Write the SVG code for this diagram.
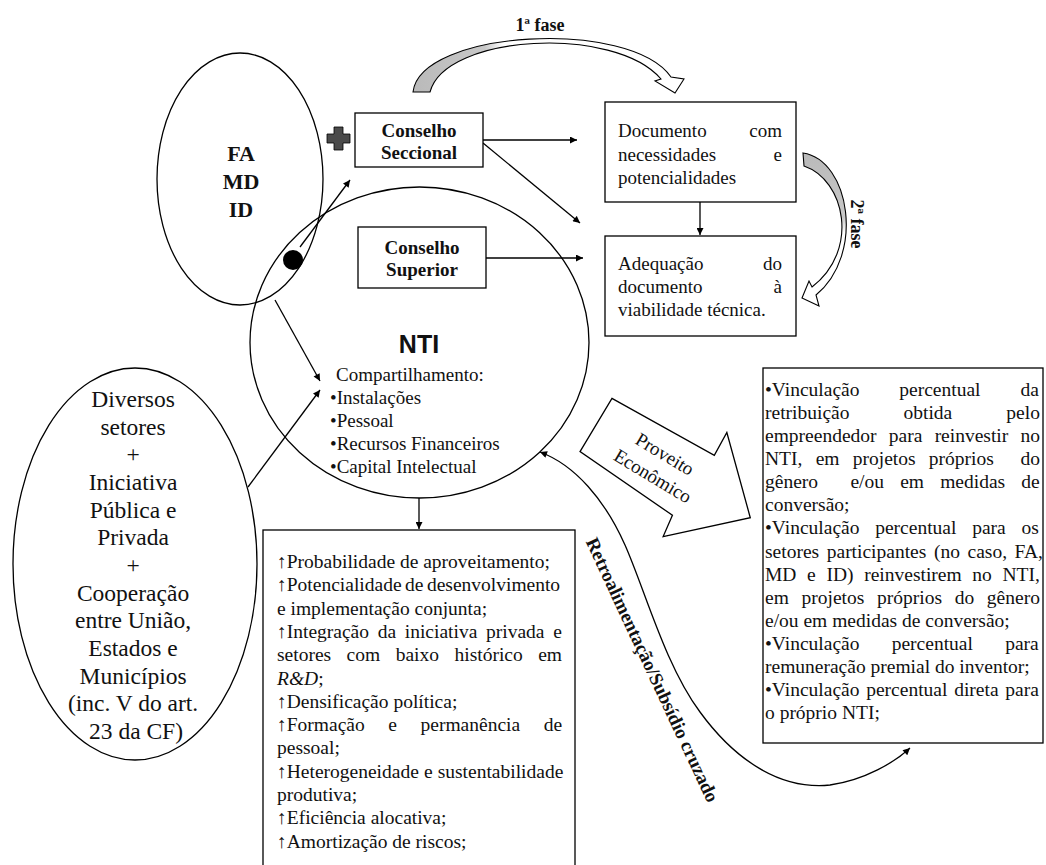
<svg xmlns="http://www.w3.org/2000/svg" width="1046" height="865" viewBox="0 0 1046 865">
<defs>
<marker id="ah" viewBox="0 0 10 10" refX="10" refY="5" markerWidth="9" markerHeight="7" markerUnits="userSpaceOnUse" orient="auto-start-reverse"><path d="M0,0 L10,5 L0,10 z" fill="#000"/></marker>
<linearGradient id="g1" gradientUnits="userSpaceOnUse" x1="410" y1="0" x2="560" y2="0"><stop offset="0" stop-color="#b9b9b9"/><stop offset="0.5" stop-color="#c8c8c8"/><stop offset="0.62" stop-color="#fff"/></linearGradient>
<linearGradient id="g2" gradientUnits="userSpaceOnUse" x1="0" y1="150" x2="0" y2="300"><stop offset="0" stop-color="#b9b9b9"/><stop offset="0.45" stop-color="#c8c8c8"/><stop offset="0.55" stop-color="#fff"/></linearGradient>
</defs>
<style>
.ln{fill:none;stroke:#000;stroke-width:1.3}
.box{fill:#fff;stroke:#000;stroke-width:1.3}
.ell{fill:none;stroke:#000;stroke-width:1.3}
.t{font-family:"Liberation Serif","Times New Roman","DejaVu Serif",serif;fill:#111}
.b{font-weight:bold}
.m{text-anchor:middle}
.e{text-anchor:end}
.sans{font-family:"Liberation Sans",Arial,sans-serif;font-weight:bold;fill:#111}
.rib{stroke:#000;stroke-width:1.1;stroke-linejoin:miter}
</style>
<rect width="1046" height="865" fill="#fff"/>

<g id="fa-md-id">
<ellipse cx="240" cy="179" rx="83" ry="126" class="ell"/>
<text class="t b m" font-size="22"><tspan x="241" y="161">FA</tspan><tspan x="241" y="189">MD</tspan><tspan x="241" y="217">ID</tspan></text>
</g>

<g id="nti">
<ellipse cx="419.5" cy="342.5" rx="169.5" ry="155.5" class="ell"/>
<text class="sans m" font-size="25" x="419" y="353">NTI</text>
<text class="t" font-size="19"><tspan x="336" y="381">Compartilhamento:</tspan><tspan x="330" y="404">•Instalações</tspan><tspan x="330" y="427">•Pessoal</tspan><tspan x="330" y="450">•Recursos Financeiros</tspan><tspan x="330" y="473">•Capital Intelectual</tspan></text>
</g>

<g id="diversos">
<ellipse cx="135" cy="564" rx="122" ry="196" class="ell"/>
<text class="t m" font-size="23.5">
<tspan x="136" y="407">Diversos</tspan>
<tspan x="136" y="434.7">setores</tspan>
<tspan x="136" y="462.3">+</tspan>
<tspan x="136" y="490">Iniciativa</tspan>
<tspan x="136" y="517.7">Pública e</tspan>
<tspan x="136" y="545.3">Privada</tspan>
<tspan x="136" y="573">+</tspan>
<tspan x="136" y="600.7">Cooperação</tspan>
<tspan x="136" y="628.3">entre União,</tspan>
<tspan x="136" y="656">Estados e</tspan>
<tspan x="136" y="683.7">Municípios</tspan>
<tspan x="136" y="711.3">(inc. V do art.</tspan>
<tspan x="136" y="739">23 da CF)</tspan>
</text>
</g>

<g id="connectors">
<line x1="483" y1="140" x2="577" y2="140" class="ln" marker-end="url(#ah)"/>
<line x1="483" y1="143" x2="580" y2="223" class="ln" marker-end="url(#ah)"/>
<line x1="486" y1="258" x2="583" y2="258" class="ln" marker-end="url(#ah)"/>
<line x1="700" y1="202" x2="700" y2="235" class="ln" marker-end="url(#ah)"/>
<line x1="300" y1="247" x2="350" y2="180" class="ln" marker-end="url(#ah)"/>
<line x1="275" y1="300" x2="320" y2="381" class="ln" marker-end="url(#ah)"/>
<line x1="248" y1="487" x2="320" y2="390" class="ln" marker-end="url(#ah)"/>
<line x1="419" y1="498" x2="419" y2="529" class="ln" marker-end="url(#ah)"/>
<path d="M540,452 C575,465 605,500 625,545 S665,665 700,712 C735,760 780,790 830,785 C865,780 895,762 910,748" class="ln" marker-start="url(#ah)" marker-end="url(#ah)"/>
</g>

<g id="plus">
<path d="M334,127 h9 v7 h7 v9 h-7 v7 h-9 v-7 h-7 v-9 h7 z" fill="#4a4a4a" stroke="#000" stroke-width="0.8"/>
</g>
<g id="dot"><circle cx="293" cy="260" r="10" fill="#000"/></g>

<g id="conselho-seccional">
<rect x="355" y="113" width="128" height="54" class="box"/>
<text class="t b m" font-size="19"><tspan x="419" y="137">Conselho</tspan><tspan x="419" y="159">Seccional</tspan></text>
</g>

<g id="conselho-superior">
<rect x="358" y="227" width="128" height="61" class="box"/>
<text class="t b m" font-size="19"><tspan x="422" y="254">Conselho</tspan><tspan x="422" y="276">Superior</tspan></text>
</g>

<g id="documento">
<rect x="605" y="102" width="191" height="100" class="box"/>
<g class="t" font-size="19">
<text x="618" y="137">Documento</text><text x="782" y="137" class="e">com</text>
<text x="618" y="161">necessidades</text><text x="782" y="161" class="e">e</text>
<text x="618" y="184">potencialidades</text>
</g>
</g>

<g id="adequacao">
<rect x="605" y="236" width="191" height="100" class="box"/>
<g class="t" font-size="19">
<text x="618" y="270">Adequação</text><text x="782" y="270" class="e">do</text>
<text x="618" y="293">documento</text><text x="782" y="293" class="e">à</text>
<text x="618" y="316">viabilidade técnica.</text>
</g>
</g>

<g id="fase1">
<path d="M413,92 C420,30 630,18 671,77 L684,79 L675,93 L655,81 L661,79 C615,25 445,34 430,92 Z" fill="url(#g1)" class="rib"/>
<text class="t b m" font-size="18" x="540" y="31">1ª fase</text>
</g>

<g id="fase2">
<path d="M803,153 C850,160 865,255 816,295 L819,306 L802,298 L809,281 L812,287 C860,250 845,180 804,166 Z" fill="url(#g2)" class="rib"/>
<text class="t b m" font-size="18" transform="translate(857,224) rotate(90)" x="0" y="6">2ª fase</text>
</g>

<g id="proveito" transform="translate(596,425) rotate(31)">
<path d="M0,-31 L117,-35 L116,-61 L180,0 L115,61 L112,38 L0,31 Z" class="box"/>
<text class="t m" font-size="19" x="74" y="-4">Proveito</text>
<text class="t m" font-size="19" x="75" y="21">Econômico</text>
</g>

<g id="retroalimentacao">
<text class="t b m" font-size="19" transform="translate(652,670) rotate(65)" x="0" y="6">Retroalimentação/Subsídio cruzado</text>
</g>

<g id="beneficios">
<rect x="263" y="530" width="312" height="340" class="box"/>
<g class="t" font-size="19.5">
<text x="277" y="568">↑Probabilidade de aproveitamento;</text>
<text x="277" y="591.3" style="word-spacing:-1.4px">↑Potencialidade de desenvolvimento</text>
<text x="277" y="614.6">e implementação conjunta;</text>
<text x="277" y="637.9" style="word-spacing:3.8px">↑Integração da iniciativa privada e</text>
<text x="277" y="661.2" style="word-spacing:10.6px">setores com baixo histórico em</text>
<text x="277" y="684.5"><tspan font-style="italic">R&amp;D</tspan>;</text>
<text x="277" y="707.8">↑Densificação política;</text>
<text x="277" y="731.1" style="word-spacing:18.7px">↑Formação e permanência de</text>
<text x="277" y="754.4">pessoal;</text>
<text x="277" y="777.7" style="word-spacing:0.2px">↑Heterogeneidade e sustentabilidade</text>
<text x="277" y="801">produtiva;</text>
<text x="277" y="824.3">↑Eficiência alocativa;</text>
<text x="277" y="847.6">↑Amortização de riscos;</text>
</g>
</g>

<g id="vinculacao">
<rect x="763" y="368" width="280" height="375" class="box"/>
<g class="t" font-size="19.5">
<text x="765" y="396" style="word-spacing:35px">•Vinculação percentual da</text>
<text x="765" y="419.1" style="word-spacing:49.2px">retribuição obtida pelo</text>
<text x="765" y="442.1" style="word-spacing:7.4px">empreendedor para reinvestir no</text>
<text x="765" y="465.2" xml:space="preserve" style="word-spacing:8.4px">NTI, em projetos próprios  do</text>
<text x="765" y="488.3" xml:space="preserve" style="word-spacing:11.3px">gênero  e/ou em medidas de</text>
<text x="765" y="511.4">conversão;</text>
<text x="765" y="534.4" style="word-spacing:10.9px">•Vinculação percentual para os</text>
<text x="765" y="557.5" style="word-spacing:2.7px">setores participantes (no caso, FA,</text>
<text x="765" y="580.6" style="word-spacing:5.8px">MD e ID) reinvestirem no NTI,</text>
<text x="765" y="603.6" style="word-spacing:7.8px">em projetos próprios do gênero</text>
<text x="765" y="626.7">e/ou em medidas de conversão;</text>
<text x="765" y="649.8" style="word-spacing:27.4px">•Vinculação percentual para</text>
<text x="765" y="672.8">remuneração premial do inventor;</text>
<text x="765" y="695.9" style="word-spacing:1.9px">•Vinculação percentual direta para</text>
<text x="765" y="719">o próprio NTI;</text>
</g>
</g>
</svg>
